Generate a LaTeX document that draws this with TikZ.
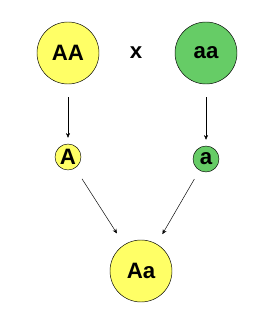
\documentclass[tikz,border=0pt]{standalone}
\usepackage{fontspec}
\setmainfont{Liberation Sans}
\usepackage{xcolor}
\usetikzlibrary{arrows.meta,positioning}
\definecolor{gyel}{RGB}{255,255,102}
\definecolor{ggrn}{RGB}{102,204,102}
\tikzset{
  parent/.style={circle,draw,inner sep=0pt,minimum size=1.86cm,font=\fontsize{19}{19}\selectfont\bfseries},
  gamete/.style={circle,draw,inner sep=0pt,minimum size=0.78cm,font=\fontsize{19}{19}\selectfont\bfseries},
  cross/.style={->,>={Stealth[length=4pt,width=3.5pt]}}
}

\begin{document}
\begin{tikzpicture}[x=0.03cm,y=-0.03cm]
  \useasboundingbox (0,0) rectangle (273,321);
  \node[parent,fill=gyel] (AA) at (68,53) {AA};
  \node[parent,fill=ggrn] (aa) at (206,53) {aa};
  \node[font=\fontsize{19}{19}\selectfont\bfseries] (x) at (136,53) {x};
  \node[gamete,fill=gyel] (A) at (68,157) {A};
  \node[gamete,fill=ggrn] (a) at (206,159) {a};
  \node[parent,fill=gyel] (Aa) at (141,271) {Aa};
  \draw[cross,shorten <=0.39cm,shorten >=0.18cm] (AA) -- (A);
  \draw[cross,shorten <=0.39cm,shorten >=0.18cm] (aa) -- (a);
  \draw[cross,shorten <=0.38cm,shorten >=0.4cm] (A) -- (Aa);
  \draw[cross,shorten <=0.3cm,shorten >=0.34cm] (a) -- (Aa);
\end{tikzpicture}
\end{document}
